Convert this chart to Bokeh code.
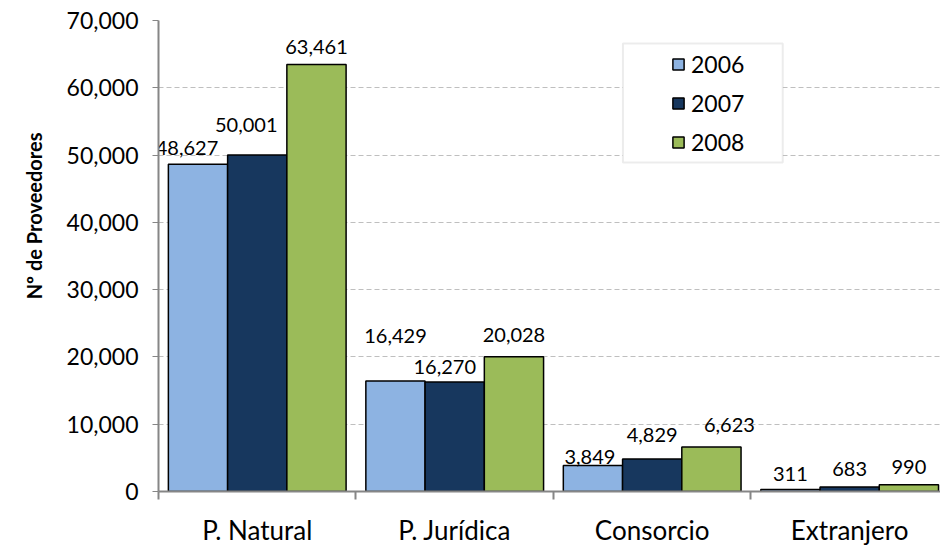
from bokeh.plotting import figure
from bokeh.models import (FixedTicker, NumeralTickFormatter, Legend, LegendItem,
                          BoxAnnotation, ColumnDataSource, Range1d, Title)
from bokeh.core.properties import value
from bokeh.embed import file_html
from bokeh.resources import INLINE

# ---- data ----
categories = ["P. Natural", "P. Jurídica", "Consorcio", "Extranjero"]
years = ["2006", "2007", "2008"]
v2006 = [48627, 16429, 3849, 311]
v2007 = [50001, 16270, 4829, 683]
v2008 = [63461, 20028, 6623, 990]
y_ticks = [0, 10000, 20000, 30000, 40000, 50000, 60000, 70000]
y_title = "Nº de Proveedores"

series = [v2006, v2007, v2008]
colors = ["#8DB3E2", "#17375E", "#9BBB59"]
# label nudges (pixels) mimicking the original label placement
label_dx = [[-11, -11, 0], [0, -10, 0], [-3, 0, 18], [0, 0, 0]]
label_gap = [[16, 30, 17], [45, 15, 22], [9, 24, 22], [15, 18, 18]]

FONT = "Lato"
BAR_W = 0.3

p = figure(width=940, height=548, x_range=Range1d(0, 3.96), y_range=Range1d(0, 70000),
           output_backend="svg", toolbar_location=None,
           min_border_left=158, min_border_right=0, min_border_top=20, min_border_bottom=57)
p.outline_line_color = None
p.background_fill_color = "white"

renderers = []
lx, ly, lt, ldx, ldy = [], [], [], [], []
for j, (yr, vals) in enumerate(zip(years, series)):
    xs = [i + 0.5 + (j - 1) * BAR_W for i in range(len(categories))]
    src = ColumnDataSource(dict(x=xs, top=vals))
    r = p.vbar(x="x", top="top", width=BAR_W, source=src, fill_color=colors[j],
               line_color="black", line_width=1.5)
    renderers.append(r)
    for i, v in enumerate(vals):
        lx.append(xs[i]); ly.append(v); lt.append(f"{v:,}")
        ldx.append(label_dx[i][j]); ldy.append(-label_gap[i][j])

lsrc = ColumnDataSource(dict(x=lx, y=ly, t=lt, dx=ldx, dy=ldy))
p.text(x="x", y="y", text="t", source=lsrc, x_offset="dx", y_offset="dy",
       text_align="center", text_baseline="alphabetic",
       text_font=value(FONT), text_font_size="20px", text_color="black")

# grid
p.xgrid.visible = False
p.ygrid.ticker = FixedTicker(ticks=y_ticks)
p.ygrid.grid_line_color = "#BFBFBF"
p.ygrid.grid_line_dash = "5 3"
p.ygrid.grid_line_width = 1

# y axis
yax = p.yaxis[0]
yax.ticker = FixedTicker(ticks=y_ticks)
yax.formatter = NumeralTickFormatter(format="0,0")
yax.axis_line_color = "#868686"
yax.axis_line_width = 2
yax.major_tick_line_color = "#868686"
yax.major_tick_out = 6
yax.major_tick_in = 0
yax.minor_tick_out = 0
yax.minor_tick_in = 0
yax.major_label_standoff = 14
yax.major_label_text_font = FONT
yax.major_label_text_font_size = "23px"
yax.major_label_text_color = "black"

# y axis title as a side title, shifted above centre as in the original
ttl = Title(text=y_title, align="right", offset=112, standoff=35,
            text_font=FONT, text_font_size="20px", text_font_style="bold",
            text_color="black")
p.add_layout(ttl, "left")

# x axis
xax = p.xaxis[0]
centers = [i + 0.5 for i in range(len(categories))]
xax.ticker = FixedTicker(ticks=centers, minor_ticks=list(range(len(categories) + 1)))
xax.major_label_overrides = {c: name for c, name in zip(centers, categories)}
xax.axis_line_color = "#868686"
xax.axis_line_width = 2
xax.major_tick_out = 0
xax.major_tick_in = 0
xax.minor_tick_out = 8
xax.minor_tick_in = 0
xax.minor_tick_line_color = "#868686"
xax.minor_tick_line_width = 2
xax.major_label_standoff = 14
xax.major_label_text_font = FONT
xax.major_label_text_font_size = "26px"
xax.major_label_text_color = "black"

# legend frame
box = BoxAnnotation(left=2.352, right=3.161, top=66580, bottom=48900,
                    fill_color="white", fill_alpha=1.0,
                    line_color="#BFBFBF", line_width=2)
p.add_layout(box)

legend = Legend(items=[LegendItem(label=yr, renderers=[r]) for yr, r in zip(years, renderers)],
                location=(513, 335), padding=0, spacing=11, margin=0,
                glyph_width=14, glyph_height=14, label_height=20, label_standoff=6,
                border_line_color=None, background_fill_alpha=0,
                label_text_font=FONT, label_text_font_size="23px", label_text_color="black")
p.add_layout(legend, "center")

open("out.html", "w").write(file_html(p, INLINE))
